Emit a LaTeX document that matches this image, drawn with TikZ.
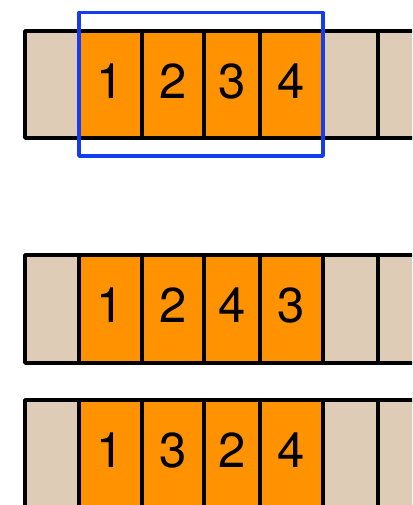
\documentclass[tikz,border=0pt]{standalone}
\usepackage{fontspec}
\setmainfont{TeX Gyre Heros}
\definecolor{tan}{RGB}{223,204,182}
\definecolor{orng}{RGB}{255,146,0}
\definecolor{selblue}{RGB}{20,60,240}
\begin{document}
\begin{tikzpicture}[x=1pt,y=-1pt,
  cellframe/.style={draw=black,line width=3.6pt,line join=round},
  tancell/.style={cellframe,fill=tan},
  orcell/.style={cellframe,fill=orng},
  num/.style={anchor=base,font=\fontsize{49}{49}\selectfont,inner sep=0pt},
  selbox/.style={draw=selblue,line width=3.6pt,line join=round}]
\useasboundingbox (0,0) rectangle (412,505);
\clip (0,0) rectangle (412,505);
% row 1
\foreach \r/\ya/\yb/\a/\b/\c/\d/\bl in {1/31/138/1/2/3/4/99, 2/255/363/1/2/4/3/322, 3/400/510/1/3/2/4/467}{
  \draw[tancell] (25,\ya) rectangle (79,\yb);
  \draw[orcell] (79,\ya) rectangle (142,\yb);
  \draw[orcell] (142,\ya) rectangle (204,\yb);
  \draw[orcell] (204,\ya) rectangle (260,\yb);
  \draw[orcell] (260,\ya) rectangle (323,\yb);
  \draw[tancell] (323,\ya) rectangle (378,\yb);
  \draw[tancell] (378,\ya) rectangle (433,\yb);
  \node[num] (r\r a) at (110.5,\bl) {\a};
  \node[num] (r\r b) at (173,\bl) {\b};
  \node[num] (r\r c) at (232,\bl) {\c};
  \node[num] (r\r d) at (291.5,\bl) {\d};
}
\draw[selbox] (79,12.5) rectangle (323,156);
\end{tikzpicture}
\end{document}
